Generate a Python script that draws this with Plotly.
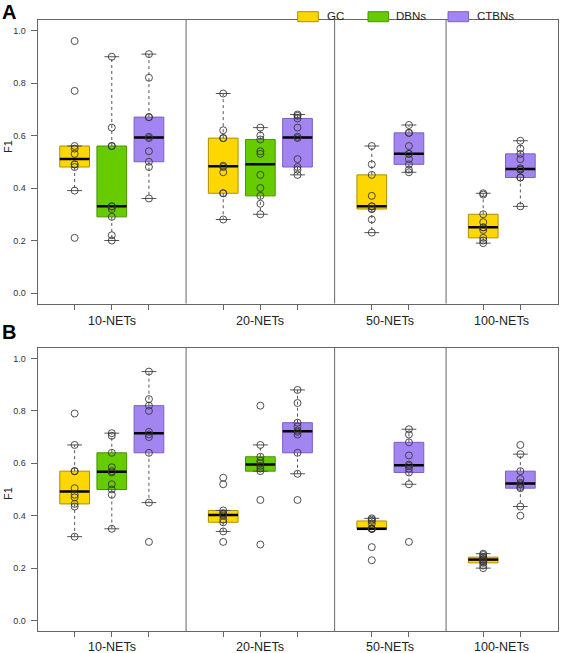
import numpy as np
import plotly.graph_objects as go

# ---------------- data ----------------
methods = ["GC", "DBNs", "CTBNs"]
groups = ["10-NETs", "20-NETs", "50-NETs", "100-NETs"]
group_methods = [["GC", "DBNs", "CTBNs"], ["GC", "DBNs", "CTBNs"], ["GC", "CTBNs"], ["GC", "CTBNs"]]
panel_labels = ["A", "B"]
y_axis_title = "F1"
y_ticks = [0.0, 0.2, 0.4, 0.6, 0.8, 1.0]

# Panel A
a_gc_10 = [0.21, 0.39, 0.48, 0.49, 0.49, 0.53, 0.55, 0.56, 0.77, 0.96]
a_dbn_10 = [0.20, 0.22, 0.29, 0.32, 0.33, 0.33, 0.56, 0.56, 0.63, 0.90]
a_ctbn_10 = [0.36, 0.48, 0.50, 0.54, 0.59, 0.595, 0.67, 0.67, 0.82, 0.91]
a_gc_20 = [0.28, 0.38, 0.38, 0.46, 0.48, 0.485, 0.59, 0.59, 0.62, 0.76]
a_dbn_20 = [0.30, 0.34, 0.37, 0.40, 0.45, 0.53, 0.54, 0.585, 0.60, 0.63]
a_ctbn_20 = [0.45, 0.47, 0.48, 0.51, 0.59, 0.595, 0.63, 0.665, 0.675, 0.68]
a_gc_50 = [0.23, 0.28, 0.32, 0.32, 0.33, 0.33, 0.37, 0.45, 0.49, 0.56]
a_ctbn_50 = [0.46, 0.47, 0.49, 0.51, 0.53, 0.53, 0.56, 0.61, 0.61, 0.64]
a_gc_100 = [0.19, 0.20, 0.21, 0.24, 0.25, 0.25, 0.27, 0.30, 0.375, 0.38]
a_ctbn_100 = [0.33, 0.44, 0.44, 0.47, 0.47, 0.475, 0.51, 0.53, 0.55, 0.58]

# Panel B
b_gc_10 = [0.32, 0.435, 0.445, 0.47, 0.48, 0.505, 0.57, 0.57, 0.67, 0.79]
b_dbn_10 = [0.35, 0.48, 0.50, 0.52, 0.565, 0.57, 0.585, 0.64, 0.705, 0.715]
b_ctbn_10 = [0.30, 0.45, 0.64, 0.70, 0.71, 0.72, 0.80, 0.82, 0.845, 0.95]
b_gc_20 = [0.30, 0.34, 0.375, 0.385, 0.40, 0.405, 0.41, 0.42, 0.52, 0.545]
b_dbn_20 = [0.29, 0.46, 0.57, 0.58, 0.59, 0.60, 0.61, 0.625, 0.67, 0.82]
b_ctbn_20 = [0.46, 0.56, 0.64, 0.71, 0.72, 0.725, 0.74, 0.755, 0.83, 0.88]
b_gc_50 = [0.23, 0.28, 0.35, 0.35, 0.35, 0.35, 0.37, 0.38, 0.385, 0.39]
b_ctbn_50 = [0.30, 0.52, 0.565, 0.58, 0.59, 0.595, 0.63, 0.68, 0.71, 0.73]
b_gc_100 = [0.20, 0.21, 0.22, 0.225, 0.23, 0.235, 0.24, 0.242, 0.25, 0.255]
b_ctbn_100 = [0.40, 0.435, 0.505, 0.51, 0.52, 0.525, 0.54, 0.57, 0.635, 0.67]

panel_a = {
    ("10-NETs", "GC"): a_gc_10, ("10-NETs", "DBNs"): a_dbn_10, ("10-NETs", "CTBNs"): a_ctbn_10,
    ("20-NETs", "GC"): a_gc_20, ("20-NETs", "DBNs"): a_dbn_20, ("20-NETs", "CTBNs"): a_ctbn_20,
    ("50-NETs", "GC"): a_gc_50, ("50-NETs", "CTBNs"): a_ctbn_50,
    ("100-NETs", "GC"): a_gc_100, ("100-NETs", "CTBNs"): a_ctbn_100,
}
panel_b = {
    ("10-NETs", "GC"): b_gc_10, ("10-NETs", "DBNs"): b_dbn_10, ("10-NETs", "CTBNs"): b_ctbn_10,
    ("20-NETs", "GC"): b_gc_20, ("20-NETs", "DBNs"): b_dbn_20, ("20-NETs", "CTBNs"): b_ctbn_20,
    ("50-NETs", "GC"): b_gc_50, ("50-NETs", "CTBNs"): b_ctbn_50,
    ("100-NETs", "GC"): b_gc_100, ("100-NETs", "CTBNs"): b_ctbn_100,
}

# ---------------- styles ----------------
fill = {"GC": "#FFD700", "DBNs": "#66CC00", "CTBNs": "#A385F2"}
border = {"GC": "#A89000", "DBNs": "#4A9300", "CTBNs": "#7A5FC4"}
frame_col = "#666666"
W, H = 566, 653
BOX_W = 0.8

# positions
positions = {}
separators = []
group_centers = []
p = 0
for gi, g in enumerate(groups):
    ps = []
    for m in group_methods[gi]:
        p += 1
        positions[(g, m)] = p
        ps.append(p)
    group_centers.append(float(np.mean(ps)))
    p += 1
    if gi < len(groups) - 1:
        separators.append(p)
x_max = p


def fivenum(v):
    x = sorted(v)
    n = len(x)
    n4 = np.floor((n + 3) / 2) / 2
    d = [1, n4, (n + 1) / 2, n + 1 - n4, n]
    return [0.5 * (x[int(np.floor(i)) - 1] + x[int(np.ceil(i)) - 1]) for i in d]


def px_to_paper_y(py):
    return 1 - py / H


panels = [
    dict(data=panel_a, xa="x", ya="y", dom=(px_to_paper_y(303.5), px_to_paper_y(20.0)),
         label_y=321, title_y=147, letter_y=11.5),
    dict(data=panel_b, xa="x2", ya="y2", dom=(px_to_paper_y(631.0), px_to_paper_y(348.0)),
         label_y=647, title_y=494, letter_y=332),
]

fig = go.Figure()
annotations = []
shapes = []

for pi, pan in enumerate(panels):
    xa, ya = pan["xa"], pan["ya"]
    for (g, m), vals in pan["data"].items():
        pos = positions[(g, m)]
        mn, q1, med, q3, mx = fivenum(vals)
        iqr = q3 - q1
        lo = min(v for v in vals if v >= q1 - 1.5 * iqr)
        hi = max(v for v in vals if v <= q3 + 1.5 * iqr)
        # box
        fig.add_trace(go.Box(
            x=[pos], q1=[q1], median=[med], q3=[q3], lowerfence=[q1], upperfence=[q3],
            orientation="v", width=BOX_W, fillcolor=fill[m],
            line=dict(color=border[m], width=1), whiskerwidth=0,
            boxpoints=False, showlegend=False, hoverinfo="skip", xaxis=xa, yaxis=ya))
        # whiskers (dashed)
        for a, b in [(q3, hi), (q1, lo)]:
            fig.add_trace(go.Scatter(
                x=[pos, pos], y=[a, b], mode="lines",
                line=dict(color="#555555", width=1, dash="3px,3px"),
                showlegend=False, hoverinfo="skip", xaxis=xa, yaxis=ya))
        # caps
        for b in [hi, lo]:
            fig.add_trace(go.Scatter(
                x=[pos - BOX_W / 4, pos + BOX_W / 4], y=[b, b], mode="lines",
                line=dict(color="#555555", width=1),
                showlegend=False, hoverinfo="skip", xaxis=xa, yaxis=ya))
        # median
        fig.add_trace(go.Scatter(
            x=[pos - BOX_W / 2, pos + BOX_W / 2], y=[med, med], mode="lines",
            line=dict(color="black", width=2.5),
            showlegend=False, hoverinfo="skip", xaxis=xa, yaxis=ya))
        # points
        fig.add_trace(go.Scatter(
            x=[pos] * len(vals), y=vals, mode="markers",
            marker=dict(symbol="circle-open", size=7, color="rgba(50,50,50,0.85)",
                        line=dict(width=1)),
            showlegend=False, hoverinfo="skip", xaxis=xa, yaxis=ya))

    for s in separators:
        shapes.append(dict(type="line", xref=xa, yref=f"{ya} domain", x0=s, x1=s, y0=0, y1=1,
                           line=dict(color=frame_col, width=1)))
    for g, c in zip(groups, group_centers):
        annotations.append(dict(x=c, xref=xa, y=px_to_paper_y(pan["label_y"]), yref="paper",
                                text=g, showarrow=False, xanchor="center", yanchor="middle",
                                font=dict(size=12.5, color="#222222")))
    annotations.append(dict(x=8 / W, xref="paper", y=px_to_paper_y(pan["title_y"]), yref="paper",
                            text=y_axis_title, textangle=-90, showarrow=False,
                            xanchor="center", yanchor="middle",
                            font=dict(size=11, color="#222222")))
    annotations.append(dict(x=0, xref="paper", y=px_to_paper_y(pan["letter_y"]), yref="paper",
                            text=f"<b>{panel_labels[pi]}</b>", showarrow=False,
                            xanchor="left", yanchor="middle",
                            font=dict(size=20, color="black")))

# legend (manual)
leg_items = [("GC", 297.7, 325), ("DBNs", 368, 394), ("CTBNs", 448, 475)]
for m, rx, tx in leg_items:
    shapes.append(dict(type="rect", xref="paper", yref="paper",
                       x0=rx / W, x1=(rx + 20.6) / W,
                       y0=px_to_paper_y(21.7), y1=px_to_paper_y(11.7),
                       fillcolor=fill[m], line=dict(color=border[m], width=1)))
    annotations.append(dict(x=tx / W, xref="paper", y=px_to_paper_y(16.5), yref="paper",
                            text=m, showarrow=False, xanchor="left", yanchor="middle",
                            font=dict(size=11.5, color="#222222")))

tick_positions = sorted(positions.values())
xcommon = dict(range=[0, x_max], showgrid=False, zeroline=False, showline=True, mirror=True,
               linecolor=frame_col, linewidth=1, tickmode="array", tickvals=tick_positions,
               ticktext=[""] * len(tick_positions), ticks="outside", ticklen=5,
               tickcolor=frame_col, tickwidth=1, domain=[37.5 / W, 557.5 / W], fixedrange=True,
               automargin=False)
ycommon = dict(range=[-0.04, 1.04], showgrid=False, zeroline=False, showline=True, mirror=True,
               linecolor=frame_col, linewidth=1, tickmode="array", tickvals=y_ticks,
               ticktext=[f"{t:.1f}" for t in y_ticks], ticks="outside", ticklen=6,
               tickcolor=frame_col, tickwidth=1, tickfont=dict(size=9, color="#333333"),
               ticklabelstandoff=3, fixedrange=True, automargin=False)

fig.update_layout(
    width=W, height=H,
    margin=dict(l=0, r=0, t=0, b=0, autoexpand=False),
    paper_bgcolor="white", plot_bgcolor="white",
    font=dict(family="Liberation Sans, Arial, sans-serif", color="#222222"),
    showlegend=False,
    xaxis=dict(xcommon, anchor="y"),
    yaxis=dict(ycommon, anchor="x", domain=[panels[0]["dom"][0], panels[0]["dom"][1]]),
    xaxis2=dict(xcommon, anchor="y2"),
    yaxis2=dict(ycommon, anchor="x2", domain=[panels[1]["dom"][0], panels[1]["dom"][1]]),
    shapes=shapes,
    annotations=annotations,
)

fig.write_html("out.html", config={"displayModeBar": False},
               post_script="document.body.style.margin='0';")
